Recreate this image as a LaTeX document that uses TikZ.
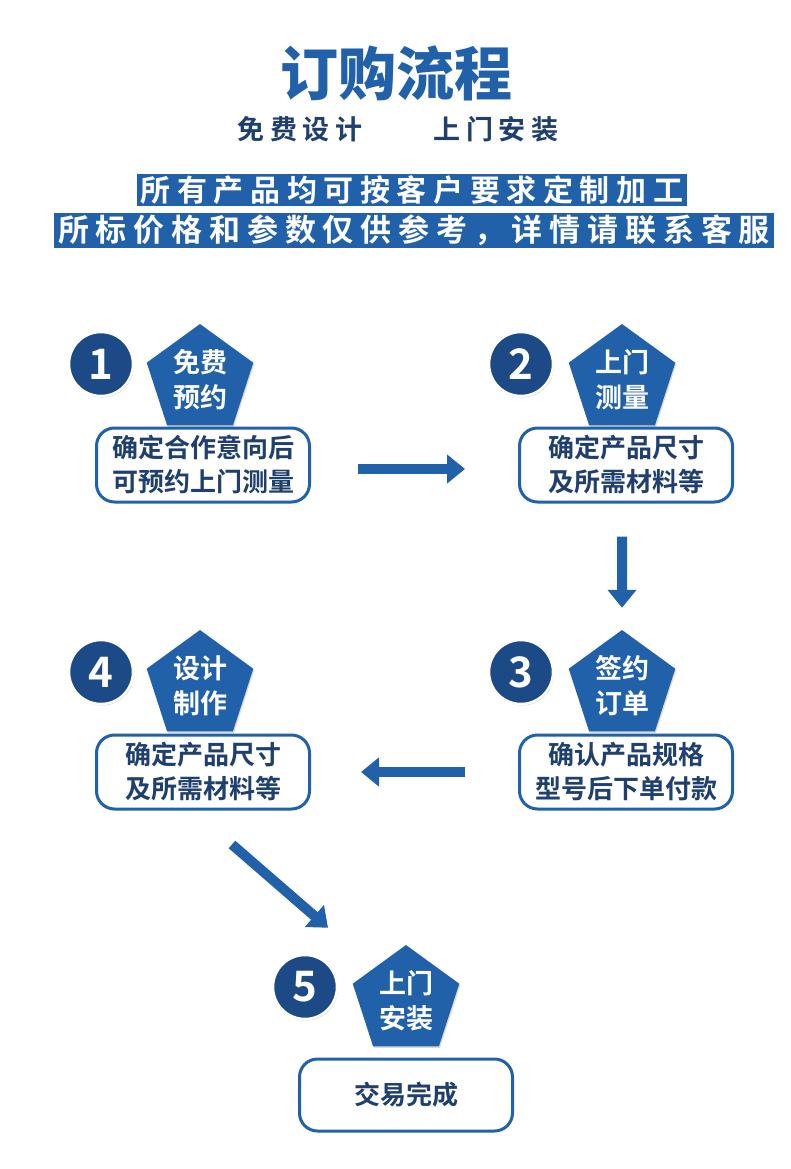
\documentclass[tikz,border=0pt]{standalone}
\usepackage{fontspec}
\usepackage{tikz}
\usetikzlibrary{shapes.geometric, arrows.meta, shadows}
\newfontfamily\cjk{Noto Sans CJK SC}[BoldFont={Noto Sans CJK SC Bold}]
\newfontfamily\cjkblack{Noto Sans CJK SC Black}
\newfontfamily\cjkspread{Noto Sans CJK SC Bold}[LetterSpace=22]
\definecolor{flowblue}{HTML}{2161A9}
\definecolor{navyblue}{HTML}{1C4A87}
\definecolor{inkblue}{HTML}{1F3F6E}

\begin{document}
\begin{tikzpicture}[x=1pt, y=-1pt,
    numdot/.style={circle, fill=navyblue, draw=white, line width=2.5pt, minimum size=64pt,
        text=white, font=\cjk\bfseries\fontsize{42}{42}\selectfont,
        drop shadow={shadow xshift=1pt, shadow yshift=-1.5pt, opacity=0.35}},
    stepgon/.style={regular polygon, regular polygon sides=5, minimum size=112pt, inner sep=0pt,
        fill=flowblue, text=white, align=center, font=\cjk\bfseries\fontsize{27}{35}\selectfont,
        drop shadow={shadow xshift=1pt, shadow yshift=-1.5pt, opacity=0.3}},
    notebox/.style={rounded corners=18pt, draw=flowblue, line width=3pt, fill=white,
        minimum width=213pt, minimum height=74pt, align=center, text=inkblue,
        font=\cjk\bfseries\fontsize{26}{34}\selectfont},
    banner/.style={fill=flowblue, text=white, inner xsep=4pt, inner ysep=1pt},
    flowarrow/.style={draw=flowblue, line width=10pt, -{Triangle[length=18pt, width=28pt]}}]
    \def\colL{203}
    \def\colR{626}

    \fill[white] (0,0) rectangle (790,1169);
    \useasboundingbox (0,0) rectangle (790,1169);

    % heading
    \node[text=flowblue, font=\cjkblack\fontsize{58}{58}\selectfont] (title) at (396,73) {订购流程};
    \node[text=inkblue, font=\cjkspread\fontsize{27}{27}\selectfont] (subL) at (300,129) {免费设计};
    \node[text=inkblue, font=\cjkspread\fontsize{27}{27}\selectfont] (subR) at (496,129) {上门安装};
    \node[banner, minimum height=31pt, font=\cjkspread\fontsize{30}{30}\selectfont] (noteA) at (412,190) {所有产品均可按客户要求定制加工};
    \node[banner, minimum height=35pt, font=\cjkspread\fontsize{31}{31}\selectfont] (noteB) at (414,230) {所标价格和参数仅供参考，详情请联系客服};

    % steps
    \node[numdot] (num1) at (\colL-102, 364) {1};
    \node[stepgon] (gon1) at (\colL-3, 380) {免费\\预约};
    \node[notebox] (box1) at (\colL, 465) {确定合作意向后\\可预约上门测量};

    \node[numdot] (num2) at (\colR-105, 364) {2};
    \node[stepgon] (gon2) at (\colR-4, 380) {上门\\测量};
    \node[notebox] (box2) at (\colR, 465) {确定产品尺寸\\及所需材料等};

    \node[numdot] (num3) at (\colR-105, 672) {3};
    \node[stepgon] (gon3) at (\colR-4, 686) {签约\\订单};
    \node[notebox] (box3) at (\colR, 772) {确认产品规格\\型号后下单付款};

    \node[numdot] (num4) at (\colL-102, 672) {4};
    \node[stepgon] (gon4) at (\colL-3, 686) {设计\\制作};
    \node[notebox] (box4) at (\colL, 772) {确定产品尺寸\\及所需材料等};

    \node[numdot] (num5) at (305, 987) {5};
    \node[stepgon] (gon5) at (406, 1001) {上门\\安装};
    \node[notebox, minimum height=72pt] (box5) at (406, 1095) {交易完成};

    % arrows
    \draw[flowarrow] ([xshift=47pt, yshift=-4pt]box1.east) -- ([xshift=-53pt, yshift=-4pt]box2.west);
    \draw[flowarrow] ([xshift=-4pt, yshift=-33pt]box2.south) -- ([yshift=22pt]gon3.north);
    \draw[flowarrow] ([xshift=-53pt]box3.west) -- ([xshift=50pt]box4.east);
    \draw[flowarrow] ([xshift=29pt, yshift=-34pt]box4.south) -- ([xshift=-78pt, yshift=17pt]gon5.north);
\end{tikzpicture}
\end{document}
